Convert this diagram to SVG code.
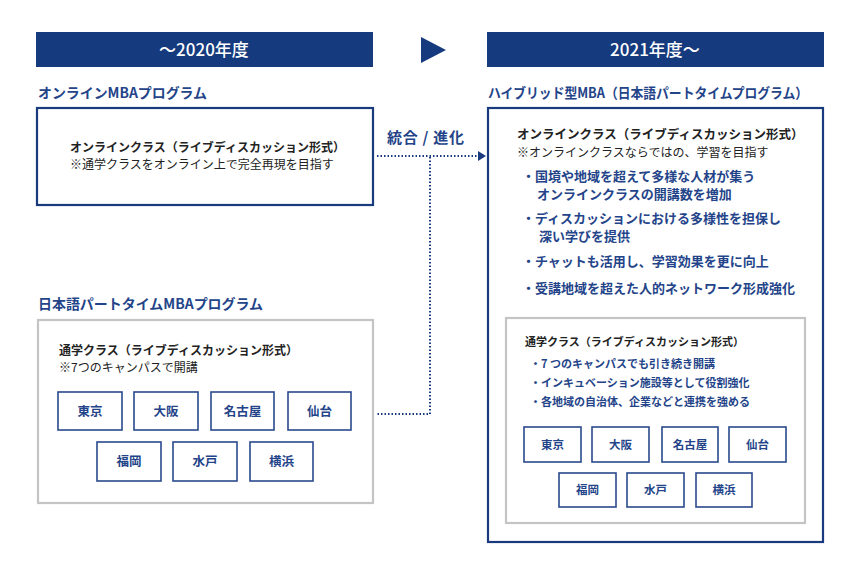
<svg xmlns="http://www.w3.org/2000/svg" width="860" height="573" viewBox="0 0 860 573">
<defs>
<style>
text{font-family:"Noto Sans CJK JP","Noto Sans",sans-serif;}
.hdr{fill:#163a7e;}
.hdrt{fill:#fff;font-size:17px;font-weight:500;text-anchor:middle;}
.sec{fill:#244489;font-size:14px;font-weight:700;}
.navy{fill:#fff;stroke:#1a3a7e;stroke-width:2.2;}
.gray{fill:#fff;stroke:#c4c4c4;stroke-width:2.2;}
.city{fill:#fff;stroke:#2a4a8c;stroke-width:1.6;}
.cityt{fill:#244489;font-size:12.5px;font-weight:700;text-anchor:middle;}
.cityts{fill:#244489;font-size:11.5px;font-weight:700;text-anchor:middle;}
.bk{fill:#222;font-size:12px;font-weight:700;}
.bkn{fill:#222;font-size:12px;}
.bl{fill:#244489;font-size:13px;font-weight:700;}
.bls{fill:#244489;font-size:11px;font-weight:700;}
.dot{fill:none;stroke:#1a3a7e;stroke-width:2;stroke-dasharray:1.5 2;}
</style>
<marker id="ah" markerWidth="8" markerHeight="10" refX="0" refY="5" orient="auto" markerUnits="userSpaceOnUse">
<path d="M0,0 L8,5 L0,10 Z" fill="#1a3a7e"/>
</marker>
</defs>
<rect width="860" height="573" fill="#fff"/>

<g id="header-2020">
<rect class="hdr" x="36" y="32" width="337" height="35"/>
<text class="hdrt" x="204" y="56">～2020年度</text>
</g>
<g id="arrow-triangle">
<path d="M421,37 L446,50 L421,63 Z" fill="#163a7e"/>
</g>
<g id="header-2021">
<rect class="hdr" x="487" y="32" width="337" height="35"/>
<text class="hdrt" x="655" y="56">2021年度～</text>
</g>

<g id="online-mba">
<text class="sec" x="38" y="98" textLength="169" lengthAdjust="spacingAndGlyphs">オンラインMBAプログラム</text>
<rect class="navy" x="37" y="108" width="336" height="97"/>
<text class="bk" x="70" y="152">オンラインクラス（ライブディスカッション形式）</text>
<text class="bkn" x="70" y="169">※通学クラスをオンライン上で完全再現を目指す</text>
</g>

<g id="parttime-mba">
<text class="sec" x="38" y="309" textLength="225" lengthAdjust="spacingAndGlyphs">日本語パートタイムMBAプログラム</text>
<rect class="gray" x="38" y="320" width="335" height="183"/>
<text class="bk" x="59" y="355">通学クラス（ライブディスカッション形式）</text>
<text class="bkn" x="59" y="372">※7つのキャンパスで開講</text>
</g>
<g id="l-tokyo"><rect class="city" x="58" y="392" width="64" height="38"/><text class="cityt" x="90" y="416">東京</text></g>
<g id="l-osaka"><rect class="city" x="134" y="392" width="64" height="38"/><text class="cityt" x="166" y="416">大阪</text></g>
<g id="l-nagoya"><rect class="city" x="211" y="392" width="63" height="38"/><text class="cityt" x="242.5" y="416">名古屋</text></g>
<g id="l-sendai"><rect class="city" x="288" y="392" width="63" height="38"/><text class="cityt" x="319.5" y="416">仙台</text></g>
<g id="l-fukuoka"><rect class="city" x="97" y="442" width="64" height="39"/><text class="cityt" x="129" y="466">福岡</text></g>
<g id="l-mito"><rect class="city" x="173" y="442" width="64" height="39"/><text class="cityt" x="205" y="466">水戸</text></g>
<g id="l-yokohama"><rect class="city" x="250" y="442" width="63" height="39"/><text class="cityt" x="281.5" y="466">横浜</text></g>

<g id="connectors">
<text class="sec" x="387" y="143" style="font-size:15px" textLength="77" lengthAdjust="spacing">統合 / 進化</text>
<path class="dot" d="M377,156 H478" marker-end="url(#ah)"/>
<path class="dot" d="M430,157 V414 H376"/>
</g>

<g id="hybrid-mba">
<text class="sec" x="488" y="98" textLength="320" lengthAdjust="spacingAndGlyphs">ハイブリッド型MBA（日本語パートタイムプログラム）</text>
<rect class="navy" x="488" y="108" width="335" height="434"/>
<text class="bk" x="517" y="139" style="font-size:12.5px">オンラインクラス（ライブディスカッション形式）</text>
<text class="bkn" x="517" y="157">※オンラインクラスならではの、学習を目指す</text>
<text class="bl" x="522" y="181">・国境や地域を超えて多様な人材が集う</text>
<text class="bl" x="537" y="199">オンラインクラスの開講数を増加</text>
<text class="bl" x="522" y="223">・ディスカッションにおける多様性を担保し</text>
<text class="bl" x="539" y="241">深い学びを提供</text>
<text class="bl" x="522" y="266">・チャットも活用し、学習効果を更に向上</text>
<text class="bl" x="522" y="293">・受講地域を超えた人的ネットワーク形成強化</text>
</g>
<g id="hybrid-campus">
<rect class="gray" x="506" y="318" width="299" height="205"/>
<text class="bk" x="525" y="346" style="font-size:11px">通学クラス（ライブディスカッション形式）</text>
<text class="bls" x="530" y="368">・7 つのキャンパスでも引き続き開講</text>
<text class="bls" x="530" y="387">・インキュベーション施設等として役割強化</text>
<text class="bls" x="530" y="406">・各地域の自治体、企業などと連携を強める</text>
</g>
<g id="r-tokyo"><rect class="city" x="524" y="427" width="57" height="35"/><text class="cityts" x="552.5" y="448.5">東京</text></g>
<g id="r-osaka"><rect class="city" x="592" y="427" width="57" height="35"/><text class="cityts" x="620.5" y="448.5">大阪</text></g>
<g id="r-nagoya"><rect class="city" x="662" y="427" width="56" height="35"/><text class="cityts" x="690" y="448.5">名古屋</text></g>
<g id="r-sendai"><rect class="city" x="729" y="427" width="57" height="35"/><text class="cityts" x="757.5" y="448.5">仙台</text></g>
<g id="r-fukuoka"><rect class="city" x="559" y="473" width="57" height="34"/><text class="cityts" x="587.5" y="494">福岡</text></g>
<g id="r-mito"><rect class="city" x="627" y="473" width="57" height="34"/><text class="cityts" x="655.5" y="494">水戸</text></g>
<g id="r-yokohama"><rect class="city" x="696" y="473" width="56" height="34"/><text class="cityts" x="724" y="494">横浜</text></g>
</svg>
